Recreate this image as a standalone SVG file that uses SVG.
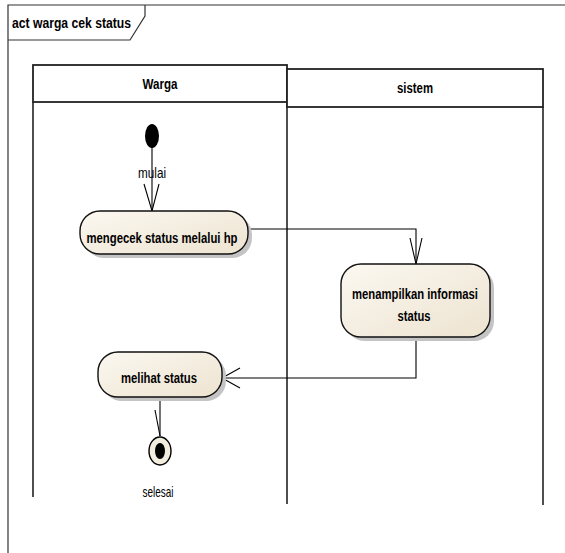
<svg xmlns="http://www.w3.org/2000/svg" width="565" height="553" viewBox="0 0 565 553">
  <defs>
    <linearGradient id="actFill" x1="0" y1="0" x2="1" y2="1">
      <stop offset="0" stop-color="#fbf8f1"/>
      <stop offset="1" stop-color="#ede3d0"/>
    </linearGradient>
  </defs>
  <style>
    .frame { fill: none; stroke: #333; stroke-width: 1.2; }
    .lane { fill: none; stroke: #222; stroke-width: 1.6; }
    .laneHead { fill: #fff; stroke: #222; stroke-width: 1.8; }
    .act { fill: url(#actFill); stroke: #111; stroke-width: 1.4; }
    .shadow { fill: #c4c4c4; }
    .edge { fill: none; stroke: #000; stroke-width: 1.1; }
    .lbl { font-family: "Liberation Sans", Arial, sans-serif; font-size: 14.5px; font-weight: bold; fill: #000; text-anchor: middle; }
    .plain { font-family: "Liberation Sans", Arial, sans-serif; font-size: 14.5px; fill: #000; text-anchor: middle; }
  </style>

  <rect width="565" height="553" fill="#fff"/>

  <!-- activity frame -->
  <g id="frame">
    <path class="frame" d="M8,553 L8,5 L565,5"/>
    <path class="frame" d="M8,40 L130,40 L145,16 L145,5"/>
    <text x="12" y="28" class="lbl" style="text-anchor:start" textLength="119" lengthAdjust="spacingAndGlyphs">act warga cek status</text>
  </g>

  <!-- swimlanes -->
  <g id="lane-warga">
    <line class="lane" x1="33" y1="102" x2="33" y2="497"/>
    <line class="lane" x1="287" y1="102" x2="287" y2="504"/>
    <rect class="laneHead" x="33" y="65" width="254" height="37"/>
    <text x="160" y="89" class="lbl" textLength="35" lengthAdjust="spacingAndGlyphs">Warga</text>
  </g>
  <g id="lane-sistem">
    <line class="lane" x1="543" y1="107" x2="543" y2="505"/>
    <rect class="laneHead" x="287" y="69" width="256" height="38"/>
    <text x="415" y="93" class="lbl" textLength="36" lengthAdjust="spacingAndGlyphs">sistem</text>
  </g>

  <!-- connectors -->
  <g id="connectors">
    <path class="edge" d="M152,146 L152,211"/>
    <path class="edge" d="M144,184 L152,211 L159,184"/>
    <path class="edge" d="M248,229 L416,229 L416,264"/>
    <path class="edge" d="M410,238 L416,264 L422,238"/>
    <path class="edge" d="M416,337 L416,378 L222,378"/>
    <path class="edge" d="M240,368 L222,378 L240,388"/>
    <path class="edge" d="M160,397 L160,436"/>
    <path class="edge" d="M155,410 L160,436"/>
    <text x="152" y="178" class="plain" textLength="28" lengthAdjust="spacingAndGlyphs">mulai</text>
  </g>

  <!-- start -->
  <g id="start">
    <ellipse cx="152" cy="136" rx="7" ry="12" fill="#000"/>
  </g>

  <!-- actions -->
  <g id="act-mengecek">
    <rect class="shadow" x="84" y="215" width="168" height="43" rx="20"/>
    <rect class="act" x="80" y="211" width="168" height="43" rx="20"/>
    <text x="162" y="243" class="lbl" textLength="151" lengthAdjust="spacingAndGlyphs">mengecek status melalui hp</text>
  </g>
  <g id="act-menampilkan">
    <rect class="shadow" x="345" y="268" width="149" height="73" rx="20"/>
    <rect class="act" x="341" y="264" width="149" height="73" rx="20"/>
    <text x="415" y="299" class="lbl" textLength="126" lengthAdjust="spacingAndGlyphs">menampilkan informasi</text>
    <text x="414" y="321" class="lbl" textLength="33" lengthAdjust="spacingAndGlyphs">status</text>
  </g>
  <g id="act-melihat">
    <rect class="shadow" x="102" y="356" width="124" height="45" rx="20"/>
    <rect class="act" x="98" y="352" width="124" height="45" rx="20"/>
    <text x="159" y="383" class="lbl" textLength="76" lengthAdjust="spacingAndGlyphs">melihat status</text>
  </g>

  <!-- final -->
  <g id="final">
    <ellipse cx="160" cy="451" rx="11" ry="14" fill="#f3ede0" stroke="#000" stroke-width="1.4"/>
    <ellipse cx="160" cy="451" rx="5" ry="8" fill="#000"/>
    <text x="158" y="497" class="plain" textLength="31" lengthAdjust="spacingAndGlyphs">selesai</text>
  </g>
</svg>
